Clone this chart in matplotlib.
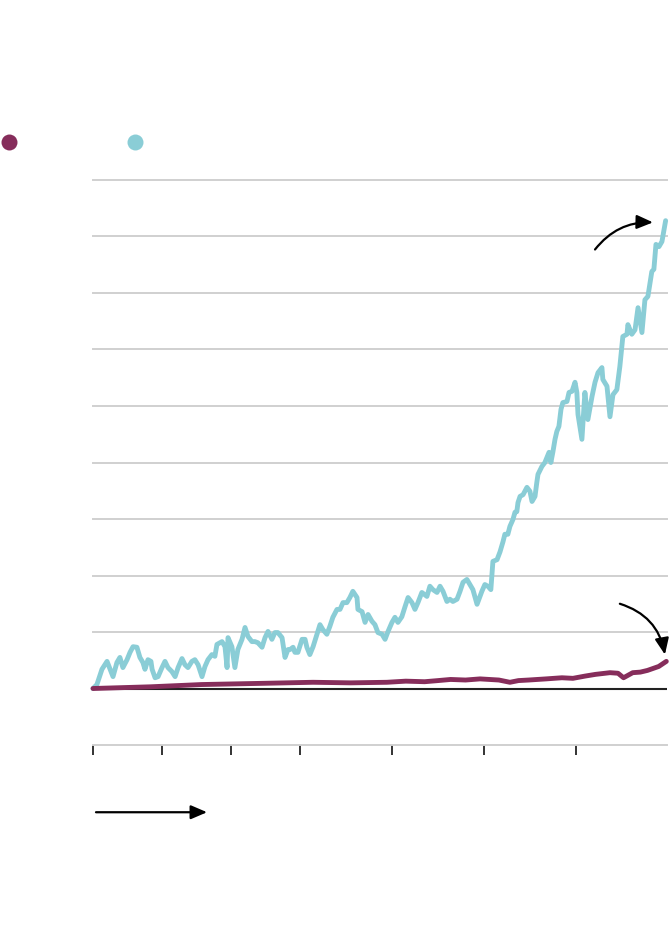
import matplotlib
matplotlib.use("Agg")
import matplotlib.pyplot as plt
from matplotlib.lines import Line2D

# ---- data ----
blue_years = [1993.00, 1993.17, 1993.39, 1993.61, 1993.87, 1994.04, 1994.17, 1994.30, 1994.48, 1994.61,
              1994.74, 1994.91, 1995.04, 1995.17, 1995.26, 1995.39, 1995.52, 1995.57, 1995.70, 1995.83,
              1996.00, 1996.13, 1996.26, 1996.43, 1996.57, 1996.70, 1996.87, 1997.00, 1997.13, 1997.30,
              1997.43, 1997.57, 1997.74, 1997.87, 1998.00, 1998.17, 1998.30, 1998.39, 1998.61, 1998.74,
              1998.83, 1998.87, 1999.04, 1999.17, 1999.30, 1999.48, 1999.61, 1999.74, 1999.91, 2000.04,
              2000.17, 2000.35, 2000.48, 2000.61, 2000.78, 2000.91, 2001.04, 2001.22, 2001.35, 2001.48,
              2001.57, 2001.70, 2001.78, 2001.91, 2002.09, 2002.22, 2002.30, 2002.43, 2002.57, 2002.74,
              2002.87, 2003.00, 2003.17, 2003.30, 2003.43, 2003.61, 2003.74, 2003.87, 2004.04, 2004.17,
              2004.30, 2004.48, 2004.52, 2004.70, 2004.83, 2004.96, 2005.13, 2005.26, 2005.39, 2005.57,
              2005.70, 2005.83, 2006.00, 2006.13, 2006.26, 2006.43, 2006.57, 2006.70, 2006.87, 2007.00,
              2007.13, 2007.30, 2007.52, 2007.65, 2007.78, 2007.96, 2008.09, 2008.22, 2008.39, 2008.52,
              2008.65, 2008.83, 2008.96, 2009.09, 2009.26, 2009.39, 2009.52, 2009.70, 2009.91, 2010.04,
              2010.17, 2010.30, 2010.39, 2010.57, 2010.70, 2010.83, 2010.91, 2011.04, 2011.13, 2011.26,
              2011.35, 2011.43, 2011.48, 2011.57, 2011.70, 2011.87, 2012.00, 2012.09, 2012.22, 2012.30,
              2012.35, 2012.52, 2012.65, 2012.83, 2012.91, 2013.00, 2013.09, 2013.17, 2013.26, 2013.35,
              2013.43, 2013.61, 2013.70, 2013.83, 2013.96, 2014.04, 2014.09, 2014.17, 2014.26, 2014.39,
              2014.52, 2014.70, 2014.83, 2014.96, 2015.13, 2015.17, 2015.35, 2015.48, 2015.61, 2015.78,
              2015.91, 2016.04, 2016.22, 2016.26, 2016.43, 2016.57, 2016.70, 2016.87, 2017.00, 2017.13,
              2017.30, 2017.39, 2017.48, 2017.61, 2017.74, 2017.90]
blue_values = [0, 7, 34, 48, 21, 46, 55, 37, 51, 64,
               74, 73, 55, 46, 34, 51, 48, 34, 19, 21,
               37, 48, 37, 30, 21, 37, 53, 42, 37, 48,
               51, 42, 21, 39, 51, 60, 57, 78, 83, 74,
               37, 90, 74, 37, 69, 87, 108, 92, 83, 83,
               81, 73, 90, 101, 87, 99, 99, 90, 55, 69,
               69, 73, 64, 64, 87, 87, 73, 60, 74, 96,
               113, 104, 96, 110, 126, 140, 140, 152, 152, 161,
               172, 161, 140, 136, 117, 131, 119, 113, 99, 96,
               87, 101, 117, 126, 117, 127, 145, 161, 152, 140,
               152, 170, 163, 181, 175, 170, 181, 172, 154, 158,
               154, 158, 172, 188, 193, 184, 175, 149, 172, 184,
               181, 175, 225, 228, 242, 260, 273, 273, 287, 299,
               312, 313, 329, 340, 343, 356, 349, 331, 340, 365,
               379, 393, 400, 418, 400, 419, 441, 455, 464, 494,
               506, 508, 524, 526, 542, 524, 485, 464, 441, 524,
               476, 517, 542, 559, 568, 547, 535, 481, 520, 529,
               570, 623, 627, 644, 627, 635, 674, 630, 688, 694,
               738, 742, 786, 782, 791, 828]

purple_years = [1993.00, 1995.50, 1997.72, 2000.20, 2002.57, 2004.20, 2005.78, 2006.60, 2007.42, 2008.00,
                2008.55, 2009.20, 2009.83, 2010.65, 2011.13, 2011.50, 2011.94, 2012.70, 2013.39, 2013.87,
                2014.40, 2014.85, 2015.48, 2015.83, 2016.07, 2016.47, 2016.80, 2017.11, 2017.60, 2017.93]
purple_values = [0, 3, 7, 9, 11, 10, 11, 13, 12, 14,
                 16, 15, 17, 15, 11, 14, 15, 17, 19, 18,
                 22, 25, 28, 27, 19, 28, 29, 32, 39, 48]

grid_values = [100, 200, 300, 400, 500, 600, 700, 800, 900]
tick_years = [1993, 1996, 1999, 2002, 2006, 2010, 2014]

PURPLE = "#862D5B"
BLUE = "#8ACDD6"

fig = plt.figure(figsize=(6.7, 9.32), dpi=100)
ax = fig.add_axes([93 / 670, 187 / 932, 574 / 670, 565 / 932])
ax.set_xlim(1993, 2017.96)
ax.set_ylim(-100, 900)

for g in grid_values:
    ax.axhline(g, color="#d0d0d0", lw=1.4, zorder=1, clip_on=False)
ax.axhline(0, color="#222222", lw=1.5, zorder=2)

ax.plot(blue_years, blue_values, color=BLUE, lw=3.5, zorder=3,
        solid_joinstyle="round", solid_capstyle="round", clip_on=False)
ax.plot(purple_years, purple_values, color=PURPLE, lw=3.5, zorder=4,
        solid_joinstyle="round", solid_capstyle="round", clip_on=False)

for s in ["top", "right", "left"]:
    ax.spines[s].set_visible(False)
ax.spines["bottom"].set_color("#d0d0d0")
ax.spines["bottom"].set_linewidth(1.4)
ax.set_xticks(tick_years)
ax.set_xticklabels([""] * len(tick_years))
ax.tick_params(axis="x", direction="out", length=7.5, width=1.2, color="#111111")
ax.set_yticks([])

# legend dots
fig.add_artist(Line2D([9 / 670], [1 - 142 / 932], marker="o", ms=11.5, mew=0,
                      color=PURPLE, transform=fig.transFigure))
fig.add_artist(Line2D([135 / 670], [1 - 142 / 932], marker="o", ms=11.5, mew=0,
                      color=BLUE, transform=fig.transFigure))

# annotation arrows
arrow_kw = dict(arrowstyle="-|>,head_length=0.7,head_width=0.3", color="black",
                lw=1.6, shrinkA=0, shrinkB=0, mutation_scale=14)
ax.annotate("", xy=(2017.35, 825), xytext=(2014.83, 777),
            arrowprops=dict(connectionstyle="arc3,rad=-0.25", **arrow_kw),
            annotation_clip=False)
ax.annotate("", xy=(2017.87, 60), xytext=(2015.91, 150),
            arrowprops=dict(connectionstyle="arc3,rad=-0.3", **arrow_kw),
            annotation_clip=False)
ax.annotate("", xy=(1997.96, -219), xytext=(1993.13, -219),
            arrowprops=dict(connectionstyle="arc3,rad=0", **arrow_kw),
            annotation_clip=False)

fig.savefig("out.png", dpi=100, facecolor="white")
